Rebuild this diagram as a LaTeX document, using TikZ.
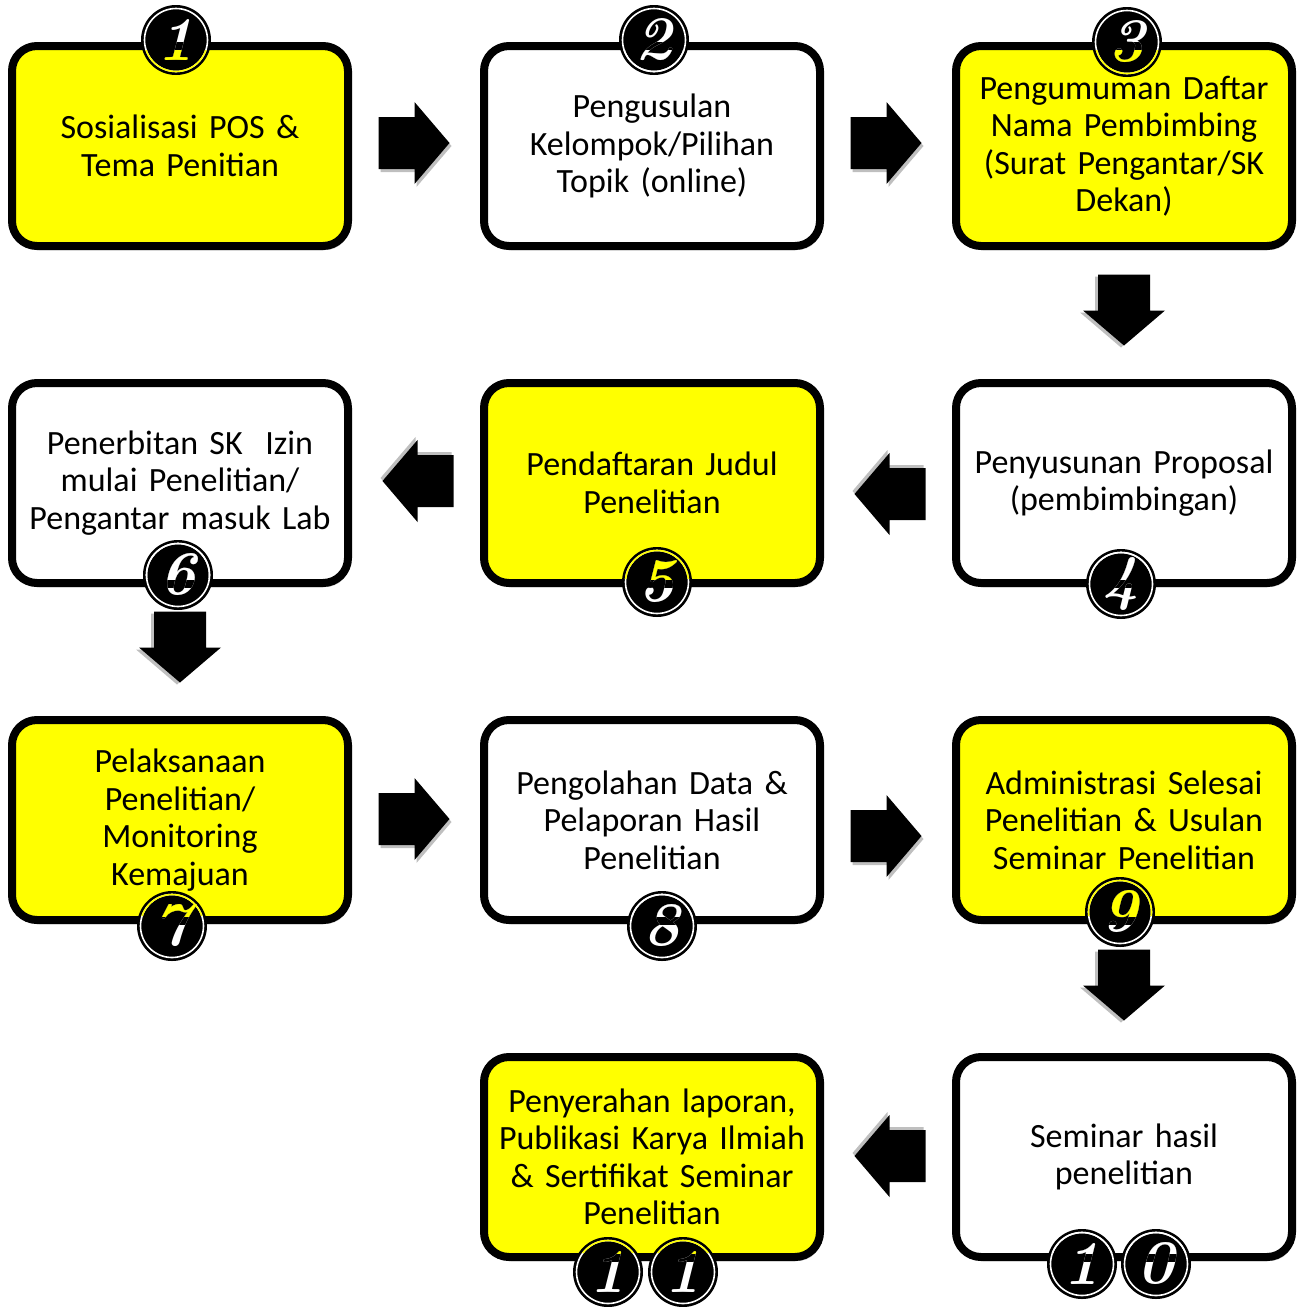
\documentclass[tikz,border=0pt]{standalone}
\usepackage{fontspec}
\newfontfamily\carlito{Carlito}
\usetikzlibrary{calc,shadows}
\definecolor{ylw}{HTML}{FFFF00}
\newcommand\badge[5]{%
  \fill[black] (#2) circle (35pt);
  \draw[white, line width=1.6pt] (#2) circle (31.5pt);
  \node[digit, text=white] (#1) at (#2) {#3};
  \begin{scope}
    \clip[rounded corners=29pt] ([shift={(-4pt,-4pt)}]#4.south west) rectangle ([shift={(4pt,4pt)}]#4.north east);
    \node[digit, text=black] (#1k) at (#2) {#3};
  \end{scope}
  \begin{scope}
    \clip[rounded corners=21pt] ([shift={(4pt,4pt)}]#4.south west) rectangle ([shift={(-4pt,-4pt)}]#4.north east);
    \draw[#5, line width=1.6pt] (#2) circle (31.5pt);
    \node[digit, text=#5] (#1f) at (#2) {#3};
  \end{scope}
}
\begin{document}
\begin{tikzpicture}[x=1pt,y=-1pt,
  stepbox/.style={draw=black, line width=8pt, rounded corners=25pt,
    minimum width=336pt, minimum height=200pt, outer sep=0pt, inner sep=0pt,
    align=center, text width=330pt, font=\carlito\fontsize{34}{37.5}\selectfont,
    drop shadow={shadow xshift=2pt, shadow yshift=-4pt, opacity=0.3, fill=black}},
  ybox/.style={stepbox, fill=ylw},
  wbox/.style={stepbox, fill=white},
  digit/.style={font=\fontsize{62}{62}\selectfont\bfseries\itshape, inner sep=0pt},
  blockarrow/.pic={
    \fill[black, opacity=0.25] (-33.5,-23) -- (2.5,-23) -- (2.5,-38) -- (37.5,3) -- (2.5,44) -- (2.5,29) -- (-33.5,29) -- cycle;
    \fill[black] (-35.5,-26) -- (0.5,-26) -- (0.5,-41) -- (35.5,0) -- (0.5,41) -- (0.5,26) -- (-35.5,26) -- cycle;}
]
\useasboundingbox (0,0) rectangle (1303,1307);

% boxes
\node[ybox] (b1) at (180,146) {Sosialisasi POS \&\\Tema Penitian};
\node[wbox] (b2) at (652,146) {Pengusulan\\Kelompok/Pilihan\\Topik (online)};
\node[ybox] (b3) at (1124,146) {Pengumuman Daftar\\Nama Pembimbing\\(Surat Pengantar/SK\\Dekan)};
\node[wbox] (b4) at (1124,483) {Penyusunan Proposal\\(pembimbingan)};
\node[ybox] (b5) at (652,483) {Pendaftaran Judul\\Penelitian};
\node[wbox] (b6) at (180,483) {Penerbitan SK\ \ Izin\\mulai Penelitian/\\Pengantar masuk Lab};
\node[ybox] (b7) at (180,820) {Pelaksanaan\\Penelitian/\\Monitoring\\Kemajuan};
\node[wbox] (b8) at (652,820) {Pengolahan Data \&\\Pelaporan Hasil\\Penelitian};
\node[ybox] (b9) at (1124,820) {Administrasi Selesai\\Penelitian \& Usulan\\Seminar Penelitian};
\node[wbox] (b10) at (1124,1157) {Seminar hasil\\penelitian};
\node[ybox] (b11) at (652,1157) {Penyerahan laporan,\\Publikasi Karya Ilmiah\\\& Sertifikat Seminar\\Penelitian};

% block arrows
\coordinate (a12) at (414,143);
\coordinate (a23) at (886,143);
\coordinate (a34) at (1124,310);
\coordinate (a45) at (890,494);
\coordinate (a56) at (418,481);
\coordinate (a67) at (180,647);
\coordinate (a78) at (414,819);
\coordinate (a89) at (886,836);
\coordinate (a910) at (1124,985);
\coordinate (a1011) at (890,1156);
\pic at (a12) {blockarrow};
\pic at (a23) {blockarrow};
\pic[rotate=-90] at (a34) {blockarrow};
\pic[rotate=180] at (a45) {blockarrow};
\pic[rotate=180] at (a56) {blockarrow};
\pic[rotate=-90] at (a67) {blockarrow};
\pic at (a78) {blockarrow};
\pic at (a89) {blockarrow};
\pic[rotate=-90] at (a910) {blockarrow};
\pic[rotate=180] at (a1011) {blockarrow};

% badges
\coordinate (p1) at (176,40);
\coordinate (p2) at (654,40);
\coordinate (p3) at (1127,42);
\coordinate (p4) at (1121,584);
\coordinate (p5) at (657,582);
\coordinate (p6) at (178,575);
\coordinate (p7) at (172,926);
\coordinate (p8) at (662,926);
\coordinate (p9) at (1120,912);
\coordinate (p10a) at (1082,1264);
\coordinate (p10b) at (1156,1264);
\coordinate (p11a) at (608,1272);
\coordinate (p11b) at (683,1272);
\badge{d1}{p1}{1}{b1}{ylw}
\badge{d2}{p2}{2}{b2}{white}
\badge{d3}{p3}{3}{b3}{ylw}
\badge{d4}{p4}{4}{b4}{white}
\badge{d5}{p5}{5}{b5}{ylw}
\badge{d6}{p6}{6}{b6}{white}
\badge{d7}{p7}{7}{b7}{ylw}
\badge{d8}{p8}{8}{b8}{white}
\badge{d9}{p9}{9}{b9}{ylw}
\badge{d10a}{p10a}{1}{b10}{white}
\badge{d10b}{p10b}{0}{b10}{white}
\badge{d11a}{p11a}{1}{b11}{ylw}
\badge{d11b}{p11b}{1}{b11}{ylw}
\end{tikzpicture}
\end{document}
